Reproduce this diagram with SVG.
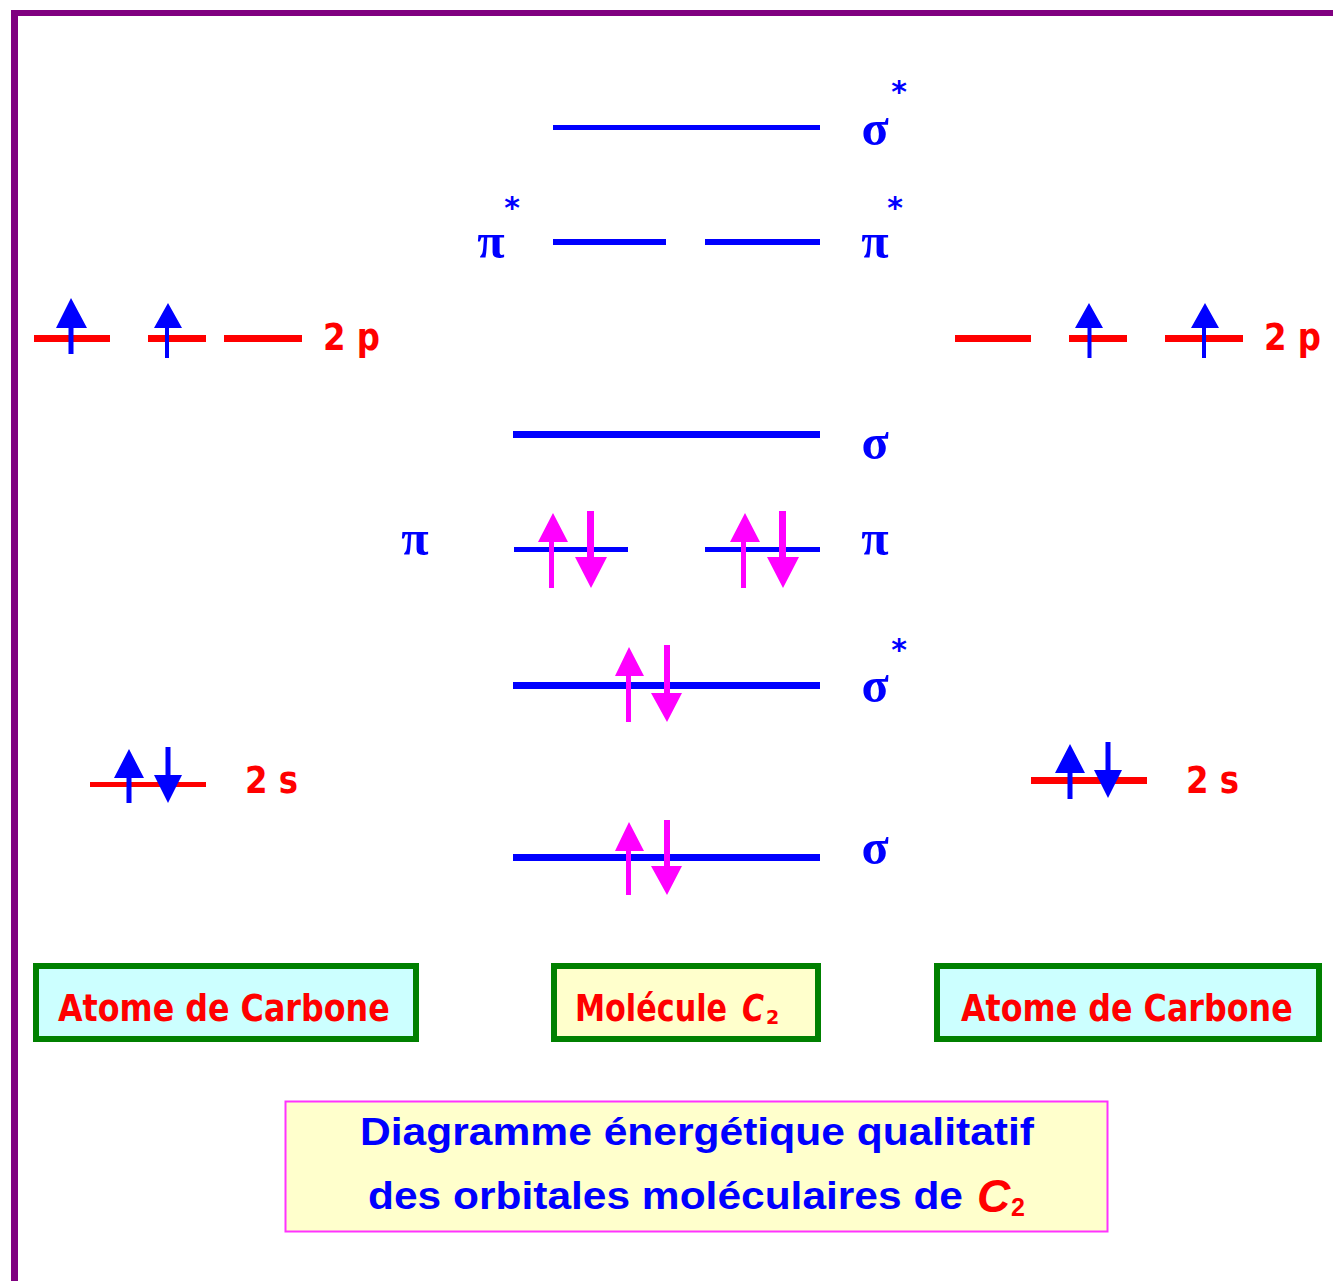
<svg xmlns="http://www.w3.org/2000/svg" width="1333" height="1281" viewBox="0 0 1333 1281">
<style>
.r{fill:#ff0000}.b{fill:#0000ff}.m{fill:#ff00ff}
.gr{font-family:"Liberation Serif","DejaVu Serif",serif;font-weight:bold;font-size:50px;fill:#0000ff;text-anchor:middle}
.st{font-family:"DejaVu Sans",sans-serif;font-weight:bold;font-size:30px;fill:#0000ff;text-anchor:middle}
.lv{font-family:"DejaVu Sans",sans-serif;font-weight:bold;font-size:37px;fill:#ff0000}
.nm{font-family:"DejaVu Sans",sans-serif;font-weight:bold;font-size:38px;fill:#ff0000}
.sub{font-family:"Liberation Sans",sans-serif;font-weight:bold;font-size:39px;fill:#0000ff}
.box{stroke:#008000;stroke-width:6}
</style>
<rect id="frame-left" x="11" y="10" width="7" height="1271" fill="#800080"/>
<rect id="frame-top" x="11" y="10" width="1322" height="6" fill="#800080"/>

<g id="levels-mo">
<rect class="b" x="553" y="125" width="267" height="5"/>
<rect class="b" x="553" y="239" width="113" height="6"/>
<rect class="b" x="705" y="239" width="115" height="6"/>
<rect class="b" x="513" y="431" width="307" height="7"/>
<rect class="b" x="514" y="547" width="114" height="5"/>
<rect class="b" x="705" y="547" width="115" height="5"/>
<rect class="b" x="513" y="682" width="307" height="7"/>
<rect class="b" x="513" y="854" width="307" height="7"/>
</g>
<g id="levels-atoms">
<rect class="r" x="34" y="335" width="76" height="7"/>
<rect class="r" x="148" y="335" width="58" height="7"/>
<rect class="r" x="224" y="335" width="78" height="7"/>
<rect class="r" x="955" y="335" width="76" height="7"/>
<rect class="r" x="1069" y="335" width="58" height="7"/>
<rect class="r" x="1165" y="335" width="78" height="7"/>
<rect class="r" x="90" y="782" width="116" height="5"/>
<rect class="r" x="1031" y="777" width="116" height="7"/>
</g>
<g id="electrons">
<path class="b" d="M71 298L87 328H73.500V354H68.500V328H56Z"/>
<path class="b" d="M168 303L182 328H169V358H165V328H154Z"/>
<path class="b" d="M1089 303L1103 328H1091.500V358H1087.500V328H1075Z"/>
<path class="b" d="M1205 303L1219 328H1206V358H1202V328H1191Z"/>
<path class="b" d="M129 749L144 778H131.500V803H126.500V778H114Z"/>
<path class="b" d="M168 803L154 775H165.500V747H170.500V775H182Z"/>
<path class="b" d="M1070 744L1085 773H1072.500V799H1067.500V773H1055Z"/>
<path class="b" d="M1108 798L1094 770H1105.500V742H1110.500V770H1122Z"/>
<path class="m" d="M553 513L568 542H554V588H549V542H538Z"/>
<path class="m" d="M591 588L607 557H594V511H587V557H575Z"/>
<path class="m" d="M745 513L760 542H746V588H741V542H730Z"/>
<path class="m" d="M783 588L799 557H786V511H779V557H767Z"/>
<path class="m" d="M629 647L644 676H631V722H626V676H615Z"/>
<path class="m" d="M667 722L682 693H670V645H664V693H651Z"/>
<path class="m" d="M629 822L644 851H631V895H626V851H615Z"/>
<path class="m" d="M667 895L682 866H670V820H664V866H651Z"/>
</g>

<g id="labels-mo">
<text class="gr" x="875" y="145">σ</text>
<text class="st" x="899" y="102">*</text>
<text class="gr" x="491" y="258">π</text>
<text class="st" x="512" y="218">*</text>
<text class="gr" x="875" y="258">π</text>
<text class="st" x="895" y="218">*</text>
<text class="gr" x="875" y="459">σ</text>
<text class="gr" x="415" y="555">π</text>
<text class="gr" x="875" y="555">π</text>
<text class="gr" x="875" y="702">σ</text>
<text class="st" x="899" y="660">*</text>
<text class="gr" x="875" y="864">σ</text>
</g>
<g id="labels-atoms">
<text class="lv" transform="translate(323 350) scale(.875 1)">2 p</text>
<text class="lv" transform="translate(1264 350) scale(.875 1)">2 p</text>
<text class="lv" transform="translate(245 793) scale(.875 1)">2 s</text>
<text class="lv" transform="translate(1186 793) scale(.875 1)">2 s</text>
</g>

<g id="box-atom-left">
<rect class="box" x="36" y="966" width="380" height="73" fill="#ccffff"/>
<text class="nm" transform="translate(58 1021) scale(.836 1)">Atome de Carbone</text>
</g>
<g id="box-molecule">
<rect class="box" x="554" y="966" width="264" height="73" fill="#ffffcc"/>
<text class="nm" transform="translate(575 1021) scale(.796 1)">Molécule</text>
<text class="nm" font-style="italic" transform="translate(742 1021) scale(.79 1)">C</text>
<text class="nm" transform="translate(766 1024) scale(.95 1)" style="font-size:20px">2</text>
</g>
<g id="box-atom-right">
<rect class="box" x="937" y="966" width="382" height="73" fill="#ccffff"/>
<text class="nm" transform="translate(961 1021) scale(.836 1)">Atome de Carbone</text>
</g>
<g id="box-title">
<rect x="285.500" y="1101.500" width="822" height="130" fill="#ffffcc" stroke="#ff33ff" stroke-width="2"/>
<text class="sub" x="360" y="1145" textLength="674" lengthAdjust="spacingAndGlyphs">Diagramme énergétique qualitatif</text>
<text class="sub" x="368" y="1209" textLength="595" lengthAdjust="spacingAndGlyphs">des orbitales moléculaires de</text>
<text x="977" y="1212" font-family="Liberation Sans, sans-serif" font-weight="bold" font-style="italic" font-size="46" fill="#ff0000">C</text>
<text x="1011" y="1216" font-family="Liberation Sans, sans-serif" font-weight="bold" font-size="25" fill="#ff0000">2</text>
</g>
</svg>
